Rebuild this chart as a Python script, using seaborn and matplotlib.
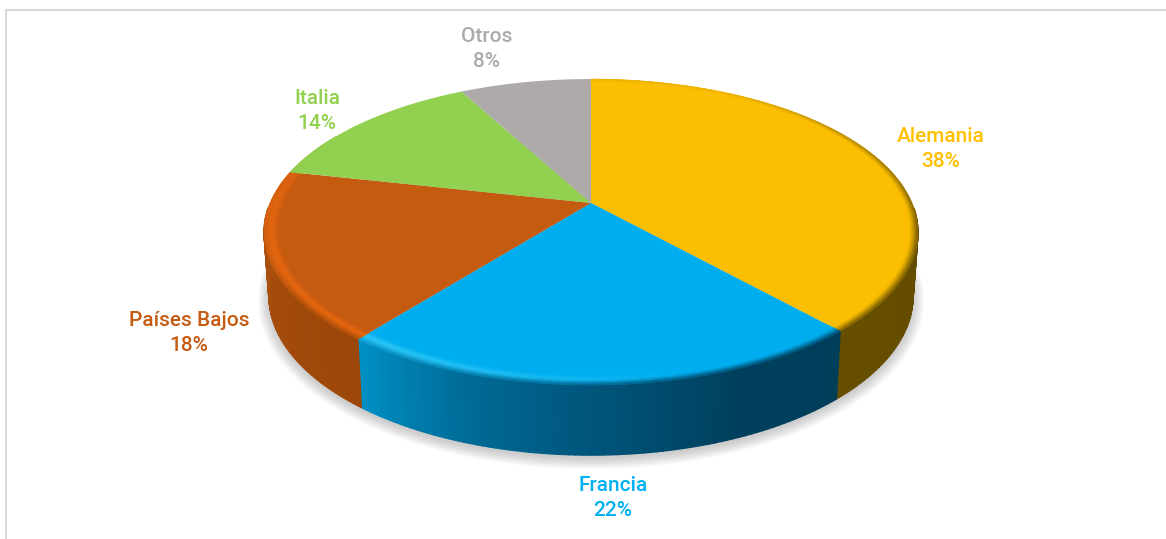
import numpy as np
import matplotlib
matplotlib.use("Agg")
import matplotlib.pyplot as plt
from matplotlib.collections import PolyCollection
from matplotlib.colors import LinearSegmentedColormap, to_rgb
from matplotlib.path import Path
from matplotlib.transforms import Transform
import seaborn as sns

categories = ["Alemania", "Francia", "Países Bajos", "Italia", "Otros"]
shares = [38.4, 22.2, 17.9, 13.7, 7.8]
share_labels = ["38%", "22%", "18%", "14%", "8%"]
face_colors = ["#FBBE00", "#00AEEF", "#C55A11", "#92D050", "#AEAAAA"]
label_colors = ["#FFC000", "#00B0F0", "#C55A11", "#92D050", "#AEAAAA"]
rim_colors = ["#FBBE00", "#2CC8F8", "#E8680F", "#92D050", "#AEAAAA"]
label_centres = [(941, 149), (613, 498), (189, 333), (317, 111), (487, 49)]
wall_stops = [
    ["#5F4A00", "#664E00"],
    ["#003F5A", "#00405E", "#005378", "#006A96", "#0090C5"],
    ["#9B4708", "#AF5210"],
    ["#7FB545", "#7FB545"],
    ["#8E8A8A", "#8E8A8A"],
]

CX, CY, A, B, K = 591.0, 203.0, 321.0, 147.5, 0.19
DEPTH, XSHRINK, YSTRETCH = 62.7, 0.985, 1.04

sns.set_theme(style="white")
plt.rcParams["font.family"] = ["Roboto", "DejaVu Sans"]


def project(x, y, depth=0.0, xs=1.0, ys=1.0):
    d = 1 + K * y
    return CX + xs * A * x / d, CY + depth - ys * B * y / d


class Perspective(Transform):
    input_dims = output_dims = 2
    is_separable = False
    has_inverse = False

    def transform_non_affine(self, values):
        v = np.asarray(values, float)
        px, py = project(v[:, 0], v[:, 1])
        return np.column_stack([px, py])

    def transform_path_non_affine(self, path):
        pts = []
        for curve, code in path.iter_bezier():
            if curve.degree < 1:
                continue
            pts.append(curve(np.linspace(0, 1, 40)))
        return Path(self.transform_non_affine(np.vstack(pts)))


fig = plt.figure(figsize=(11.66, 5.39), dpi=100, facecolor="white")
ax = fig.add_axes([0, 0, 1, 1])

wedges, _ = ax.pie(shares, colors=sns.color_palette(face_colors), startangle=90,
                   counterclock=False, wedgeprops={"linewidth": 0})
persp = Perspective() + ax.transData
for w in wedges:
    w.set_transform(persp)
    w.set_zorder(3)
ax.set_aspect("auto")
ax.set_xlim(0, 1166)
ax.set_ylim(539, 0)
ax.set_axis_off()

# soft drop shadow under the disc
tt = np.linspace(0, 2 * np.pi, 300)
for grow in np.linspace(11, 0, 14):
    sx, sy = project(np.sin(tt), np.cos(tt), DEPTH + 3, XSHRINK, YSTRETCH)
    sx = CX + (sx - CX) * (1 + grow / 320)
    sy = (CY + DEPTH + 3) + (sy - (CY + DEPTH + 3)) * (1 + grow / 190)
    ax.fill(sx, sy, color="#808080", alpha=0.032, lw=0, zorder=1)

# side wall, rim bevel
edges = np.cumsum([0] + shares) / sum(shares) * 360
wall_polys, wall_cols = [], []
rim_polys, rim_cols = [], []
radii = np.linspace(0.955, 1.0, 10)


def highlight(t):
    return np.interp(t, [165, 195, 215, 250, 285, 300], [0.0, 0.7, 1.0, 1.0, 0.6, 0.0])


def wall_blend(t):
    return np.interp(t, [30, 60, 100, 180, 235, 265, 300], [0.1, 0.45, 0.9, 0.9, 0.8, 0.2, 0.0])


for i in range(len(shares)):
    t0, t1 = edges[i], edges[i + 1]
    ts = np.arange(t0, t1 + 0.01, 1.0)
    if ts[-1] < t1:
        ts = np.append(ts, t1)
    fc = np.array(to_rgb(face_colors[i]))
    rc = np.array(to_rgb(rim_colors[i]))
    cmap = LinearSegmentedColormap.from_list("w", wall_stops[i])
    for a0, a1 in zip(ts[:-1], ts[1:]):
        am = (a0 + a1) / 2
        r0, r1 = np.radians([a0, a1])
        wall_c = np.array(cmap((am - t0) / (t1 - t0))[:3])
        # wall
        if 92 < am < 268:
            x1, y1 = project(np.sin(r0), np.cos(r0))
            x2, y2 = project(np.sin(r1), np.cos(r1))
            x3, y3 = project(np.sin(r1), np.cos(r1), DEPTH, XSHRINK, YSTRETCH)
            x4, y4 = project(np.sin(r0), np.cos(r0), DEPTH, XSHRINK, YSTRETCH)
            wall_polys.append([(x1, y1), (x2, y2), (x3, y3), (x4, y4)])
            wall_cols.append(wall_c)
        # bevel
        hi, wb = float(highlight(am)), float(wall_blend(am))
        if hi == 0 and wb == 0:
            continue
        for j in range(len(radii) - 1):
            ra, rb = radii[j], radii[j + 1]
            f = (j + 0.5) / (len(radii) - 1)
            peak = fc + (rc - fc) * hi
            c = fc + (peak - fc) * min(1, f / 0.45)
            if f > 0.45:
                c = c + (wall_c - c) * ((f - 0.45) / 0.55) ** 1.3 * wb
            xa, ya = project(ra * np.sin(r0), ra * np.cos(r0))
            xb, yb = project(ra * np.sin(r1), ra * np.cos(r1))
            xc, yc = project(rb * np.sin(r1), rb * np.cos(r1))
            xd, yd = project(rb * np.sin(r0), rb * np.cos(r0))
            rim_polys.append([(xa, ya), (xb, yb), (xc, yc), (xd, yd)])
            rim_cols.append(np.clip(c, 0, 1))

ax.add_collection(PolyCollection(wall_polys, facecolors=wall_cols, edgecolors=wall_cols,
                                 linewidths=1.0, zorder=2))
ax.add_collection(PolyCollection(rim_polys, facecolors=rim_cols, edgecolors=rim_cols,
                                 linewidths=0.4, zorder=4))

# labels
for cat, lab, col, (lx, ly) in zip(categories, share_labels, label_colors, label_centres):
    ax.text(lx, ly, f"{cat}\n{lab}", color=col, ha="center", va="center",
            fontsize=15, fontweight="medium", linespacing=1.4, zorder=6)

# chart frame
ax.plot([5.5, 5.5, 1166], [539, 10, 10], color="#D9D9D9", lw=1.5, zorder=0,
        solid_joinstyle="miter")

fig.savefig("out.png", dpi=100, facecolor="white")
